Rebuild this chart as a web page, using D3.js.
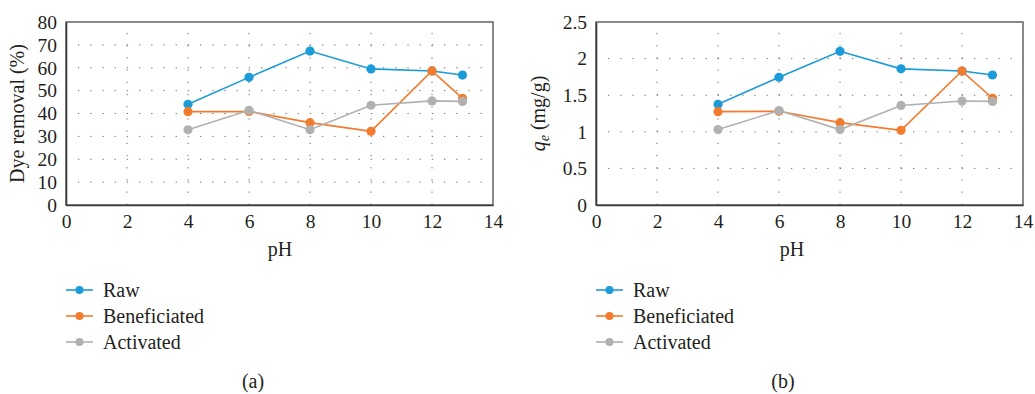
<!DOCTYPE html>
<html>
<head>
<meta charset="utf-8">
<script src="https://cdn.jsdelivr.net/npm/d3@7"></script>
<style>
  body { margin: 0; background: #fff; }
</style>
</head>
<body>
<div id="chart"></div>
<script>
  //=========================================================================
  // Data
  //=========================================================================

  const ph = [4, 6, 8, 10, 12, 13];
  const xTicks = [0, 2, 4, 6, 8, 10, 12, 14];

  // (a) dye removal, %
  const removalRaw = [44, 55.8, 67.3, 59.5, 58.6, 56.8];
  const removalBeneficiated = [40.8, 40.9, 36, 32.2, 58.6, 46.6];
  const removalActivated = [32.9, 41.4, 32.9, 43.6, 45.5, 45.3];
  const removalTicks = [0, 10, 20, 30, 40, 50, 60, 70, 80];

  // (b) qe, mg/g
  const qeRaw = [1.376, 1.745, 2.1, 1.86, 1.83, 1.776];
  const qeBeneficiated = [1.275, 1.28, 1.125, 1.02, 1.83, 1.458];
  const qeActivated = [1.03, 1.29, 1.03, 1.36, 1.42, 1.415];
  const qeTicks = [0, 0.5, 1, 1.5, 2, 2.5];

  const seriesNames = ["Raw", "Beneficiated", "Activated"];
  const seriesColors = ["#1b9bd8", "#f27b2d", "#b1b1b1"];

  const FONT = "'Liberation Serif', 'Times New Roman', serif";
  const INK = "#231f20";

  //=========================================================================
  // Svg
  //=========================================================================

  var width = 1035, height = 394;

  var svg = d3.select("#chart")
    .append("svg")
    .attr("width", width)
    .attr("height", height);

  function label(sel, size){
    return sel.style("font-family", FONT)
      .style("font-size", size + "px")
      .style("fill", INK);
  }

  function draw_panel(p){

    var x = d3.scaleLinear().domain([0, 14]).range([p.left, p.right]);
    var y = d3.scaleLinear().domain([0, p.yMax]).range([p.bottom, p.top]);

    var g = svg.append("g");

    // dotted grid
    g.selectAll("line.hgrid")
      .data(p.yTicks.filter(d => d > 0 && d < p.yMax))
      .enter()
      .append("line")
      .attr("x1", p.left + 12).attr("x2", p.right)
      .attr("y1", d => y(d)).attr("y2", d => y(d))
      .attr("stroke", "#6d6d6d")
      .attr("stroke-width", 1)
      .attr("stroke-dasharray", "1.3,10.9");

    g.selectAll("line.vgrid")
      .data(xTicks.filter(d => d > 0 && d < 14))
      .enter()
      .append("line")
      .attr("x1", d => x(d)).attr("x2", d => x(d))
      .attr("y1", p.bottom).attr("y2", p.top)
      .attr("stroke", "#6d6d6d")
      .attr("stroke-width", 1)
      .attr("stroke-dasharray", "1.3,10.9");

    // frame
    g.append("rect")
      .attr("x", p.left).attr("y", p.top)
      .attr("width", p.right - p.left).attr("height", p.bottom - p.top)
      .attr("fill", "none")
      .attr("stroke", "#4a4a4a")
      .attr("stroke-width", 1.3);

    // axes (labels only, no tick marks)
    var yAxis = g.append("g")
      .attr("transform", `translate(${p.left},0)`)
      .call(d3.axisLeft(y).tickValues(p.yTicks).tickSize(0).tickPadding(9).tickFormat(d3.format("")));
    var xAxis = g.append("g")
      .attr("transform", `translate(0,${p.bottom})`)
      .call(d3.axisBottom(x).tickValues(xTicks).tickSize(0).tickPadding(9));
    [yAxis, xAxis].forEach(a => {
      a.attr("font-family", null).attr("font-size", null);
      a.select(".domain").attr("stroke", "#3a3a3a").attr("stroke-width", 1.6);
      label(a.selectAll("text"), 19.5);
    });

    // axis titles
    label(g.append("text"), 20)
      .attr("x", p.xLabelX).attr("y", 256)
      .attr("text-anchor", "middle")
      .text("pH");

    var yt = label(g.append("text"), 20)
      .attr("transform", `translate(${p.yLabelX},${(p.top + p.bottom) / 2})rotate(-90)`)
      .attr("text-anchor", "middle");
    p.yLabel(yt);

    // lines + markers
    var line = d3.line().x((d, i) => x(ph[i])).y(d => y(d));

    p.series.forEach((values, k) => {
      g.append("path")
        .attr("d", line(values))
        .attr("fill", "none")
        .attr("stroke", seriesColors[k])
        .attr("stroke-width", 1.6);

      g.selectAll("circle.s" + k)
        .data(values)
        .enter()
        .append("circle")
        .attr("cx", (d, i) => x(ph[i]))
        .attr("cy", d => y(d))
        .attr("r", 4.6)
        .attr("fill", seriesColors[k]);
    });

    // legend
    var legend = g.selectAll("g.legend")
      .data(seriesNames)
      .enter()
      .append("g")
      .attr("transform", (d, i) => `translate(${p.legendX},${290 + i * 26})`);

    legend.append("line")
      .attr("x1", 0).attr("x2", 27)
      .attr("stroke", (d, i) => seriesColors[i])
      .attr("stroke-width", 1.6);
    legend.append("circle")
      .attr("cx", 13.5).attr("r", 4)
      .attr("fill", (d, i) => seriesColors[i]);
    label(legend.append("text"), 20)
      .attr("x", 37).attr("y", 7)
      .text(d => d);

    // caption
    label(g.append("text"), 20)
      .attr("x", p.captionX).attr("y", 388)
      .attr("text-anchor", "middle")
      .text(p.caption);
  }

  //=========================================================================
  // Panels
  //=========================================================================

  draw_panel({
    left: 66, right: 493, top: 22, bottom: 205,
    yMax: 80, yTicks: removalTicks,
    series: [removalRaw, removalBeneficiated, removalActivated],
    xLabelX: 280, yLabelX: 24, legendX: 66, captionX: 253, caption: "(a)",
    yLabel: (t) => t.text("Dye removal (%)")
  });

  draw_panel({
    left: 596, right: 1023, top: 22, bottom: 205,
    yMax: 2.5, yTicks: qeTicks,
    series: [qeRaw, qeBeneficiated, qeActivated],
    xLabelX: 792, yLabelX: 545, legendX: 596, captionX: 783, caption: "(b)",
    yLabel: (t) => {
      t.append("tspan").style("font-style", "italic").text("q");
      t.append("tspan").style("font-style", "italic").style("font-size", "14px")
        .attr("dy", 4).text("e");
      t.append("tspan").attr("dy", -4).text(" (mg/g)");
    }
  });

</script>
</body>
</html>
